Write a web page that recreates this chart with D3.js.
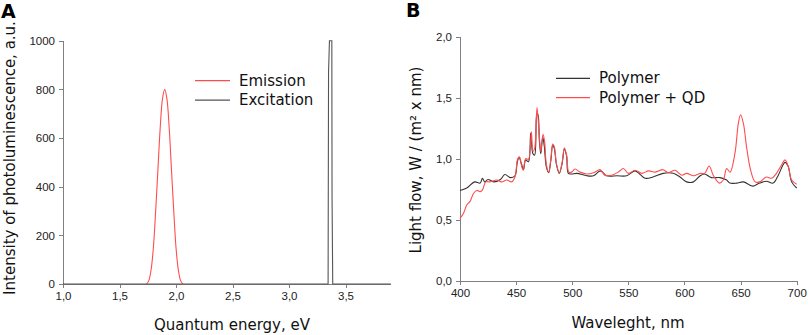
<!DOCTYPE html>
<html>
<head>
<meta charset="utf-8">
<script src="https://d3js.org/d3.v7.min.js"></script>
<style>
body {margin:0; background:#fff;}
svg {display:block; font-family:'DejaVu Sans', Verdana, sans-serif;}
.axis path, .axis line {stroke:#808080; stroke-width:1; shape-rendering:crispEdges;}
.axis text {font-size:11.5px; fill:#222;}
.title {font-size:15px; fill:#111;}
.lbl {font-size:19px; font-weight:bold; fill:#000;}
.line {fill:none; stroke-width:1.1;}
</style>
</head>
<body>
<svg id="chart" width="809" height="335"></svg>
<script>
// panel A: photoluminescence
var emission = [[1.74,0],[1.76,15],[1.78,60],[1.80,150],[1.82,300],[1.84,470],[1.86,640],[1.88,760],
                [1.90,800],[1.92,760],[1.94,640],[1.96,470],[1.98,300],[2.00,150],[2.02,60],[2.04,15],[2.06,0]];
var excitation = [[1.0,0],[3.346,0],[3.347,235],[3.350,872],[3.358,1000],[3.379,1000],[3.381,359],[3.387,0],[3.9,0]];
var ticksA_x = [1.0,1.5,2.0,2.5,3.0,3.5];
var ticksA_y = [0,200,400,600,800,1000];

// panel B: light flow spectra
var polymer = [[400,0.74],[406,0.76],[413,0.81],[418,0.80],[420,0.84],[422,0.81],[425,0.83],[430,0.81],[436,0.83],
  [440,0.87],[445,0.845],[449,0.86],[451,0.97],[452.6,1.01],[455,0.95],[456.5,0.91],[458.5,0.99],[461,0.975],
  [463,1.21],[465,1.04],[466.5,1.03],[468.5,1.37],[469.5,1.36],[470.7,1.15],[472,1.04],[473.7,1.18],[475,1.11],
  [477,0.93],[479,0.885],[481,0.99],[482.6,1.11],[484,1.085],[486,0.95],[488.5,0.88],[491,0.96],[493,1.08],
  [495,1.02],[496.5,0.88],[499.5,0.875],[504,0.88],[513,0.86],[519,0.86],[525,0.90],[530.7,0.86],[540,0.86],
  [548.5,0.86],[556,0.90],[560,0.875],[565,0.84],[572,0.85],[581,0.88],[590,0.88],[596,0.85],[602,0.81],
  [608,0.81],[614,0.86],[618,0.875],[624,0.845],[631.7,0.845],[637.6,0.825],[640.5,0.80],[646.5,0.80],
  [652.5,0.81],[658,0.785],[661,0.775],[667,0.80],[673,0.815],[679,0.80],[683.6,0.865],[689.6,0.97],
  [692.5,0.935],[695.5,0.81],[700,0.76]];
var polymerQD = [[400,0.51],[403,0.55],[406,0.62],[409,0.65],[412,0.715],[415,0.74],[418,0.73],[420,0.745],
  [423,0.81],[426.7,0.81],[432.7,0.825],[437,0.81],[441.6,0.825],[446,0.81],[449,0.85],[451.4,1.00],[453,1.015],
  [455,0.935],[456.4,0.905],[458.5,1.0],[461,0.995],[463.6,1.22],[465,1.06],[466.5,1.085],[468.6,1.42],
  [470.7,1.18],[472,1.06],[474,1.20],[475.4,1.14],[477,0.95],[479,0.89],[481,1.0],[482.6,1.12],[484,1.10],
  [486,0.955],[488.5,0.885],[491,0.97],[493,1.09],[495,1.03],[497,0.89],[499.5,0.89],[502.5,0.915],[507,0.89],
  [513,0.875],[519,0.885],[525,0.91],[529,0.865],[535,0.865],[541,0.89],[545.5,0.92],[550,0.88],[556,0.905],
  [562,0.88],[568,0.90],[574,0.89],[581,0.91],[585.6,0.885],[591.6,0.905],[597.6,0.865],[602,0.88],[608,0.86],
  [614,0.88],[618,0.88],[622,0.94],[625.6,0.865],[631,0.80],[634.6,0.825],[637.6,0.92],[640.6,0.89],[645,1.045],
  [648,1.29],[650,1.36],[652.5,1.29],[655.5,1.085],[659,0.905],[663,0.81],[667,0.81],[673,0.85],[677.7,0.84],
  [682,0.88],[686.6,0.95],[689.6,0.99],[692.5,0.935],[695.5,0.825],[700,0.79]];
var ticksB_x = [400,450,500,550,600,650,700];
var ticksB_y = [0,0.5,1.0,1.5,2.0];

var loc = d3.formatLocale({decimal:',', thousands:'', grouping:[3], currency:['','']});
var f1 = loc.format('.1f');

var svg = d3.select('#chart');
var red = '#ff4d4d', grey = '#555';

// ---- A ----
var xA = d3.scaleLinear().domain([1,3.9]).range([63,390.7]);
var yA = d3.scaleLinear().domain([0,1000]).range([284,40.7]);
svg.append('g').attr('class','axis').attr('transform','translate(0,'+yA(0)+')')
   .call(d3.axisBottom(xA).tickValues(ticksA_x).tickFormat(f1).tickSize(4).tickSizeOuter(0).tickPadding(4));
svg.append('g').attr('class','axis').attr('transform','translate('+xA(1)+',0)')
   .call(d3.axisLeft(yA).tickValues(ticksA_y).tickFormat(d3.format('d')).tickSize(4).tickSizeOuter(0).tickPadding(4));
var lineA = d3.line().x(function(d){return xA(d[0])}).y(function(d){return yA(d[1])});
svg.append('path').datum(emission).attr('class','line').attr('stroke',red)
   .attr('d',lineA.curve(d3.curveCatmullRom)(emission));
svg.append('path').datum(excitation).attr('class','line').attr('stroke',grey)
   .attr('d',d3.line().x(function(d){return xA(d[0])}).y(function(d){return yA(d[1])})(excitation));

var legA = [['Emission',red],['Excitation',grey]];
legA.forEach(function(l,i){
  var y = 80.7 + i*19.5;
  svg.append('line').attr('x1',195).attr('x2',230).attr('y1',y).attr('y2',y).attr('stroke',l[1]).attr('stroke-width',1.2);
  svg.append('text').attr('class','title').attr('x',239).attr('y',y+5).text(l[0]);
});
svg.append('text').attr('class','title').attr('x',232).attr('y',330).attr('text-anchor','middle').text('Quantum energy, eV');
svg.append('text').attr('class','title').attr('text-anchor','middle')
   .attr('transform','translate(15,158) rotate(-90)').text('Intensity of photoluminescence, a.u.');
svg.append('text').attr('class','lbl').attr('x',1).attr('y',18).text('A');

// ---- B ----
var xB = d3.scaleLinear().domain([400,700]).range([460,796.7]);
var yB = d3.scaleLinear().domain([0,2]).range([280.7,36.7]);
svg.append('g').attr('class','axis').attr('transform','translate(0,'+yB(0)+')')
   .call(d3.axisBottom(xB).tickValues(ticksB_x).tickFormat(d3.format('d')).tickSize(4).tickSizeOuter(0).tickPadding(4));
svg.append('g').attr('class','axis').attr('transform','translate('+xB(400)+',0)')
   .call(d3.axisLeft(yB).tickValues(ticksB_y).tickFormat(f1).tickSize(4).tickSizeOuter(0).tickPadding(4));
var lineB = d3.line().x(function(d){return xB(d[0])}).y(function(d){return yB(d[1])}).curve(d3.curveCatmullRom);
svg.append('path').datum(polymer).attr('class','line').attr('stroke','#333').attr('d',lineB);
svg.append('path').datum(polymerQD).attr('class','line').attr('stroke',red).attr('d',lineB);

var legB = [['Polymer','#333'],['Polymer + QD',red]];
legB.forEach(function(l,i){
  var y = 78.3 + i*19.4;
  svg.append('line').attr('x1',556).attr('x2',590).attr('y1',y).attr('y2',y).attr('stroke',l[1]).attr('stroke-width',1.2);
  svg.append('text').attr('class','title').attr('x',599).attr('y',y+5).text(l[0]);
});
svg.append('text').attr('class','title').attr('x',628).attr('y',328).attr('text-anchor','middle').text('Waveleght, nm');
svg.append('text').attr('class','title').attr('text-anchor','middle')
   .attr('transform','translate(421,160) rotate(-90)').text('Light flow, W / (m² x nm)');
svg.append('text').attr('class','lbl').attr('x',406).attr('y',17).text('B');
</script>
</body>
</html>
